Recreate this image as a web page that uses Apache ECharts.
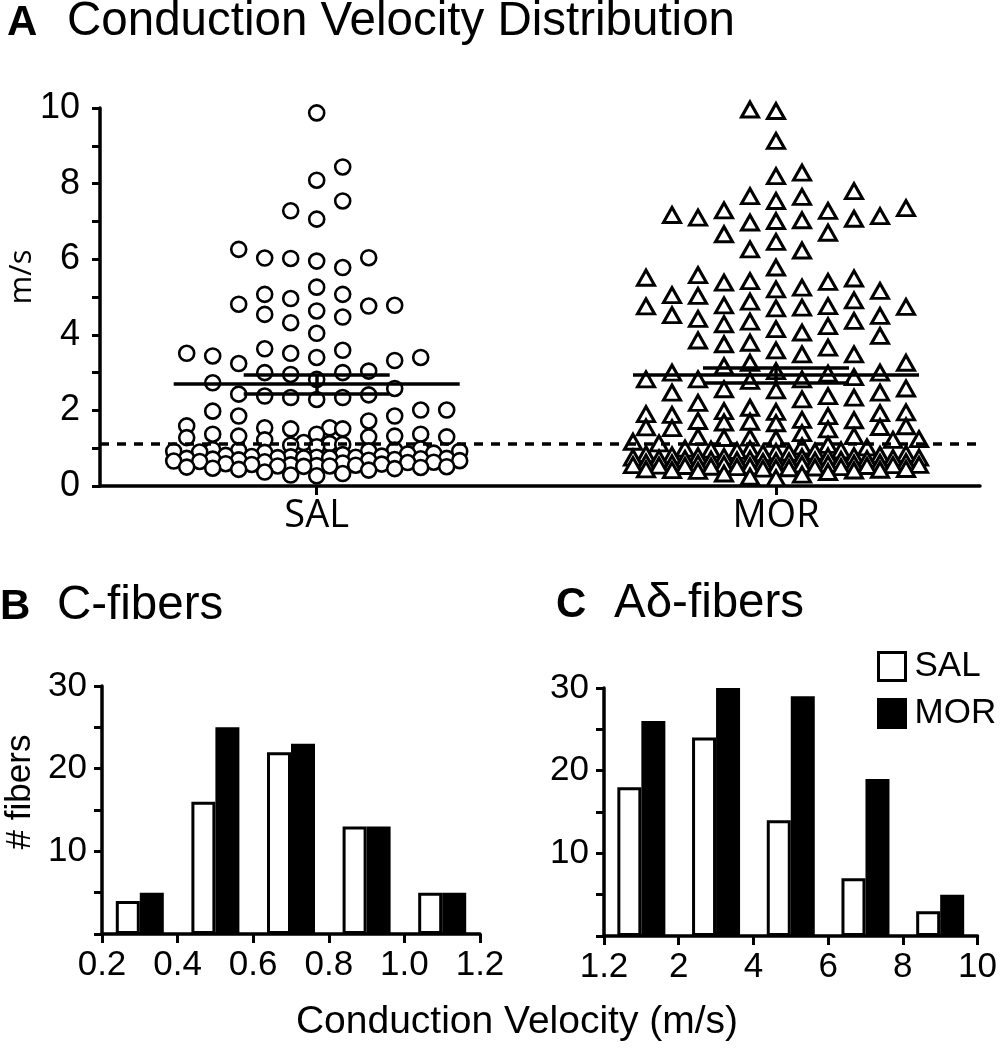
<!DOCTYPE html>
<html><head><meta charset="utf-8">
<script src="https://cdn.jsdelivr.net/npm/echarts@6/dist/echarts.min.js"></script>
<style>html,body{margin:0;padding:0;background:#fff}#c{width:1000px;height:1050px}</style>
</head><body><div id="c"></div><script>
// ---------------- data ----------------
const groups = ['SAL', 'MOR'];
const salValues = [
  9.87, 8.44, 8.09,
  7.54, 7.28, 7.06, 6.26, 6.04, 6.02, 6.03,
  5.95, 5.78, 5.26, 5.07, 5.07, 4.96, 4.81, 4.78, 4.76, 4.63, 4.54, 4.47, 4.32, 4.04,
  3.63, 3.59, 3.51, 3.51, 3.44, 3.40, 3.40, 3.32, 3.24, 3.04, 3.00, 3.00, 2.95, 2.82, 2.73, 2.58, 2.43, 2.41, 2.38, 2.34, 2.34, 2.29, 2.01, 2.01,
  1.98, 1.85, 1.85, 1.72, 1.59, 1.54, 1.54, 1.51, 1.51, 1.37, 1.37, 1.37, 1.32, 1.32, 1.30, 1.30, 1.28, 1.22,
  1.15, 1.12, 1.10, 1.08, 1.04,
  0.98, 0.96, 0.95, 0.94, 0.93, 0.92, 0.92, 0.90, 0.89, 0.87, 0.85, 0.83, 0.81,
  0.79, 0.78, 0.77, 0.76, 0.76, 0.75, 0.74, 0.74, 0.73, 0.73, 0.72, 0.71, 0.70, 0.69, 0.68, 0.67, 0.66, 0.65, 0.64, 0.63, 0.62, 0.61,
  0.59, 0.58, 0.57, 0.56, 0.55, 0.54, 0.53, 0.53, 0.52, 0.51, 0.50, 0.49, 0.47, 0.46, 0.44, 0.42,
  0.37, 0.33, 0.29, 0.27
];
const morValues = [
  9.96, 9.92, 9.13, 8.29, 8.20,
  7.80, 7.67, 7.65, 7.54, 7.35, 7.29, 7.28, 7.17, 7.14, 7.10, 7.07, 7.03, 7.01, 6.97, 6.70, 6.66, 6.46, 6.26, 6.23,
  5.78, 5.58, 5.51, 5.49, 5.42, 5.40, 5.38, 5.25, 5.20, 5.16, 5.05, 5.03, 4.91, 4.88, 4.78, 4.76, 4.75, 4.74, 4.72, 4.70, 4.52, 4.50, 4.42, 4.37, 4.35, 4.28, 4.23, 4.15, 4.06,
  3.97, 3.85, 3.79, 3.75, 3.66, 3.59, 3.48, 3.48, 3.26, 3.26, 3.17, 3.04, 3.00, 3.00, 2.97, 2.88, 2.82, 2.82, 2.82, 2.78, 2.58, 2.56, 2.53, 2.47, 2.47, 2.38, 2.34, 2.29, 2.20, 2.07,
  1.98, 1.96, 1.95, 1.93, 1.90, 1.88, 1.85, 1.75, 1.74, 1.72, 1.70, 1.68, 1.66, 1.58, 1.56, 1.55, 1.53, 1.50, 1.40, 1.32, 1.30, 1.28, 1.27, 1.25, 1.24, 1.22,
  1.17, 1.13, 1.09, 1.05, 1.02,
  0.99, 0.97, 0.96, 0.94, 0.93, 0.91, 0.90, 0.88, 0.87, 0.85, 0.84, 0.82, 0.81,
  0.79, 0.79, 0.78, 0.77, 0.76, 0.75, 0.75, 0.74, 0.73, 0.72, 0.71, 0.71, 0.70, 0.69, 0.68, 0.67, 0.66, 0.65, 0.64, 0.63, 0.62, 0.61, 0.60,
  0.59, 0.59, 0.58, 0.57, 0.57, 0.56, 0.55, 0.55, 0.54, 0.53, 0.53, 0.52, 0.51, 0.50, 0.50, 0.49, 0.48, 0.47, 0.46, 0.45, 0.44, 0.43, 0.42, 0.41, 0.40,
  0.37, 0.33, 0.30, 0.25, 0.21
];
const means = [2.70, 2.93];
const sems = [0.25, 0.20];
const cutoff = 1.13;
const yLabelsA = [0, 2, 4, 6, 8, 10];

const binEdgesB = [0.2, 0.4, 0.6, 0.8, 1.0, 1.2];
const salB = [4, 16, 22, 13, 5];
const morB = [5, 25, 23, 13, 5];

const binEdgesC = ['1.2', '2', '4', '6', '8', '10'];
const salC = [18, 24, 14, 7, 3];
const morC = [26, 30, 29, 19, 5];
const countLabels = [10, 20, 30];

// ---------------- layout ----------------
const GA = {left: 100, top: 108, width: 880, height: 378};
const GB = {left: 102, top: 686, width: 378, height: 248};
const GC = {left: 604, top: 688, width: 376, height: 248};
const pxPerY = GA.height / 10;
const catPx = [316.7, 776];
const pxPerX = catPx[1] - catPx[0];
const xMinA = -(catPx[0] - GA.left) / pxPerX;
const xMaxA = xMinA + GA.width / pxPerX;

// beeswarm layout (pixel offsets computed from the values)
function swarmOffsets(values) {
  const SP = 26, STEP = 13, HY = 20, MAXK = 11;
  const order = values.map((v, i) => i).sort((a, b) => values[a] - values[b]);
  const placed = [];
  const off = new Array(values.length).fill(0);
  let flip = 1;
  order.forEach(i => {
    const y = values[i] * pxPerY;
    const cands = [0];
    for (let k = 1; k <= MAXK; k++) cands.push(flip * k * STEP, -flip * k * STEP);
    flip = -flip;
    let best = 0, bestS = -1;
    for (const c of cands) {
      let s = Infinity;
      for (const p of placed) {
        const dy = Math.abs(p.y - y);
        if (dy >= HY) continue;
        const d = Math.max(Math.abs(p.x - c) / SP, dy / HY);
        if (d < s) s = d;
      }
      if (s >= 1) { best = c; bestS = s; break; }
      if (s > bestS + 1e-6) { bestS = s; best = c; }
    }
    placed.push({x: best, y: y});
    off[i] = best;
  });
  return off;
}
function swarmData(values, g) {
  const off = swarmOffsets(values);
  return values.map((v, i) => [g + off[i] / pxPerX, v]);
}

const meanHalf = 143 / pxPerX;
const semHalf = 73 / pxPerX;
const summaryLines = [];
[0, 1].forEach(g => {
  const m = means[g], s = sems[g];
  summaryLines.push({coords: [[g - meanHalf, m], [g + meanHalf, m]]});
  summaryLines.push({coords: [[g - semHalf, m + s], [g + semHalf, m + s]]});
  summaryLines.push({coords: [[g - semHalf, m - s], [g + semHalf, m - s]]});
  summaryLines.push({coords: [[g, m - s], [g, m + s]]});
});

const FONT = '"Liberation Sans", Arial, sans-serif';
const black = '#000';
const axisLineStyle = {color: black, width: 3.5};
const tickStyle = {color: black, width: 3};

function countAxis(grid) {
  return {
    gridIndex: grid, type: 'value', min: 0, max: 30, interval: 5,
    axisLine: {show: true, onZero: false, lineStyle: axisLineStyle},
    axisTick: {show: true, length: 8, lineStyle: tickStyle},
    axisLabel: {margin: 15, fontSize: 35, color: black, fontFamily: FONT,
      formatter: v => countLabels.includes(v) ? String(v) : ''},
    splitLine: {show: false}
  };
}

const option = {
  backgroundColor: '#fff',
  animation: false,
  grid: [
    {left: GA.left, top: GA.top, width: GA.width, height: GA.height},
    {left: GB.left, top: GB.top, width: GB.width, height: GB.height},
    {left: GC.left, top: GC.top, width: GC.width, height: GC.height}
  ],
  xAxis: [
    {
      gridIndex: 0, type: 'value', min: xMinA, max: xMaxA,
      axisLine: {show: true, onZero: false, lineStyle: axisLineStyle},
      axisTick: {show: true, customValues: [0, 1], length: 9, lineStyle: tickStyle},
      axisLabel: {customValues: [0, 1], formatter: v => groups[Math.round(v)], margin: 11,
        fontSize: 38, color: black, fontFamily: '"Open Sans", sans-serif'},
      splitLine: {show: false}
    },
    {
      gridIndex: 1, type: 'value', min: 0.2, max: 1.2, interval: 0.2,
      axisLine: {show: true, onZero: false, lineStyle: axisLineStyle},
      axisTick: {show: true, length: 9, lineStyle: tickStyle},
      axisLabel: {margin: 14, fontSize: 35, color: black, fontFamily: FONT,
        formatter: v => Number(v).toFixed(1)},
      splitLine: {show: false}
    },
    {
      gridIndex: 2, type: 'value', min: 0, max: 5, interval: 1,
      axisLine: {show: true, onZero: false, lineStyle: axisLineStyle},
      axisTick: {show: true, length: 9, lineStyle: tickStyle},
      axisLabel: {margin: 14, fontSize: 35, color: black, fontFamily: FONT,
        formatter: v => binEdgesC[Math.round(v)]},
      splitLine: {show: false}
    }
  ],
  yAxis: [
    {
      gridIndex: 0, type: 'value', min: 0, max: 10, interval: 1,
      axisLine: {show: true, onZero: false, lineStyle: axisLineStyle},
      axisTick: {show: true, length: 8, lineStyle: tickStyle},
      axisLabel: {margin: 20, fontSize: 36, color: black, fontFamily: FONT,
        formatter: v => yLabelsA.includes(v) ? String(v) : ''},
      splitLine: {show: false}
    },
    countAxis(1),
    countAxis(2)
  ],
  legend: {
    data: [
      {name: 'SAL', icon: 'rect', itemStyle: {color: '#fff', borderColor: black, borderWidth: 3}},
      {name: 'MOR', icon: 'rect', itemStyle: {color: black, borderColor: black, borderWidth: 3}}
    ],
    orient: 'vertical', left: 877, top: 649, itemWidth: 27, itemHeight: 28, itemGap: 12, padding: 0,
    selectedMode: false,
    textStyle: {fontSize: 35, color: black, fontFamily: FONT, padding: [0, 0, 0, 4]}
  },
  series: [
    {
      type: 'scatter', name: 'SAL points', xAxisIndex: 0, yAxisIndex: 0,
      symbol: 'circle', symbolSize: 15, z: 3, silent: true,
      itemStyle: {color: '#fff', borderColor: black, borderWidth: 2.6, opacity: 1},
      data: swarmData(salValues, 0)
    },
    {
      type: 'scatter', name: 'MOR points', xAxisIndex: 0, yAxisIndex: 0,
      symbol: 'triangle', symbolSize: [17, 15], z: 3, silent: true,
      itemStyle: {color: '#fff', borderColor: black, borderWidth: 3, opacity: 1},
      data: swarmData(morValues, 1)
    },
    {
      type: 'lines', coordinateSystem: 'cartesian2d', xAxisIndex: 0, yAxisIndex: 0, z: 5, silent: true,
      lineStyle: {color: black, width: 3.5, opacity: 1, type: [9, 8]},
      data: [{coords: [[xMinA, cutoff], [xMaxA, cutoff]]}]
    },
    {
      type: 'lines', coordinateSystem: 'cartesian2d', xAxisIndex: 0, yAxisIndex: 0, z: 6, silent: true,
      lineStyle: {color: black, width: 3.5, opacity: 1},
      data: summaryLines
    },
    {
      type: 'bar', name: 'SAL', xAxisIndex: 1, yAxisIndex: 1, barWidth: 24, barGap: '0%',
      itemStyle: {color: '#fff', borderColor: black, borderWidth: 3},
      data: salB.map((v, i) => [(binEdgesB[i] + binEdgesB[i + 1]) / 2, v])
    },
    {
      type: 'bar', name: 'MOR', xAxisIndex: 1, yAxisIndex: 1, barWidth: 24, barGap: '0%',
      itemStyle: {color: black, borderColor: black, borderWidth: 3},
      data: morB.map((v, i) => [(binEdgesB[i] + binEdgesB[i + 1]) / 2, v])
    },
    {
      type: 'bar', name: 'SAL', xAxisIndex: 2, yAxisIndex: 2, barWidth: 24, barGap: '0%',
      itemStyle: {color: '#fff', borderColor: black, borderWidth: 3},
      data: salC.map((v, i) => [i + 0.5, v])
    },
    {
      type: 'bar', name: 'MOR', xAxisIndex: 2, yAxisIndex: 2, barWidth: 24, barGap: '0%',
      itemStyle: {color: black, borderColor: black, borderWidth: 3},
      data: morC.map((v, i) => [i + 0.5, v])
    }
  ],
  graphic: [
    {type: 'text', x: 7, y: 23, style: {text: 'A', font: 'bold 42px ' + FONT, fill: black, textVerticalAlign: 'middle', verticalAlign: 'middle'}},
    {type: 'text', x: 67, y: 22, style: {text: 'Conduction Velocity Distribution', font: '47.5px ' + FONT, fill: black, textVerticalAlign: 'middle', verticalAlign: 'middle'}},
    {type: 'text', x: 22, y: 277, rotation: Math.PI / 2, style: {text: 'm/s', font: '31px "Open Sans", sans-serif', fill: black, textAlign: 'center', align: 'center', textVerticalAlign: 'middle', verticalAlign: 'middle'}},
    {type: 'text', x: 0, y: 607, style: {text: 'B', font: 'bold 42px ' + FONT, fill: black, textVerticalAlign: 'middle', verticalAlign: 'middle'}},
    {type: 'text', x: 57, y: 606, style: {text: 'C-fibers', font: '47.5px ' + FONT, fill: black, textVerticalAlign: 'middle', verticalAlign: 'middle'}},
    {type: 'text', x: 556, y: 605, style: {text: 'C', font: 'bold 42px ' + FONT, fill: black, textVerticalAlign: 'middle', verticalAlign: 'middle'}},
    {type: 'text', x: 614, y: 604, style: {text: 'Aδ-fibers', font: '47.5px ' + FONT, fill: black, textVerticalAlign: 'middle', verticalAlign: 'middle'}},
    {type: 'text', x: 20, y: 792, rotation: Math.PI / 2, style: {text: '# fibers', font: '35px ' + FONT, fill: black, textAlign: 'center', align: 'center', textVerticalAlign: 'middle', verticalAlign: 'middle'}},
    {type: 'text', x: 517, y: 1022, style: {text: 'Conduction Velocity (m/s)', font: '39px ' + FONT, fill: black, textAlign: 'center', align: 'center', textVerticalAlign: 'middle', verticalAlign: 'middle'}}
  ]
};

const chart = echarts.init(document.getElementById('c'), null, {renderer: 'canvas'});
chart.setOption(option);
</script></body></html>
